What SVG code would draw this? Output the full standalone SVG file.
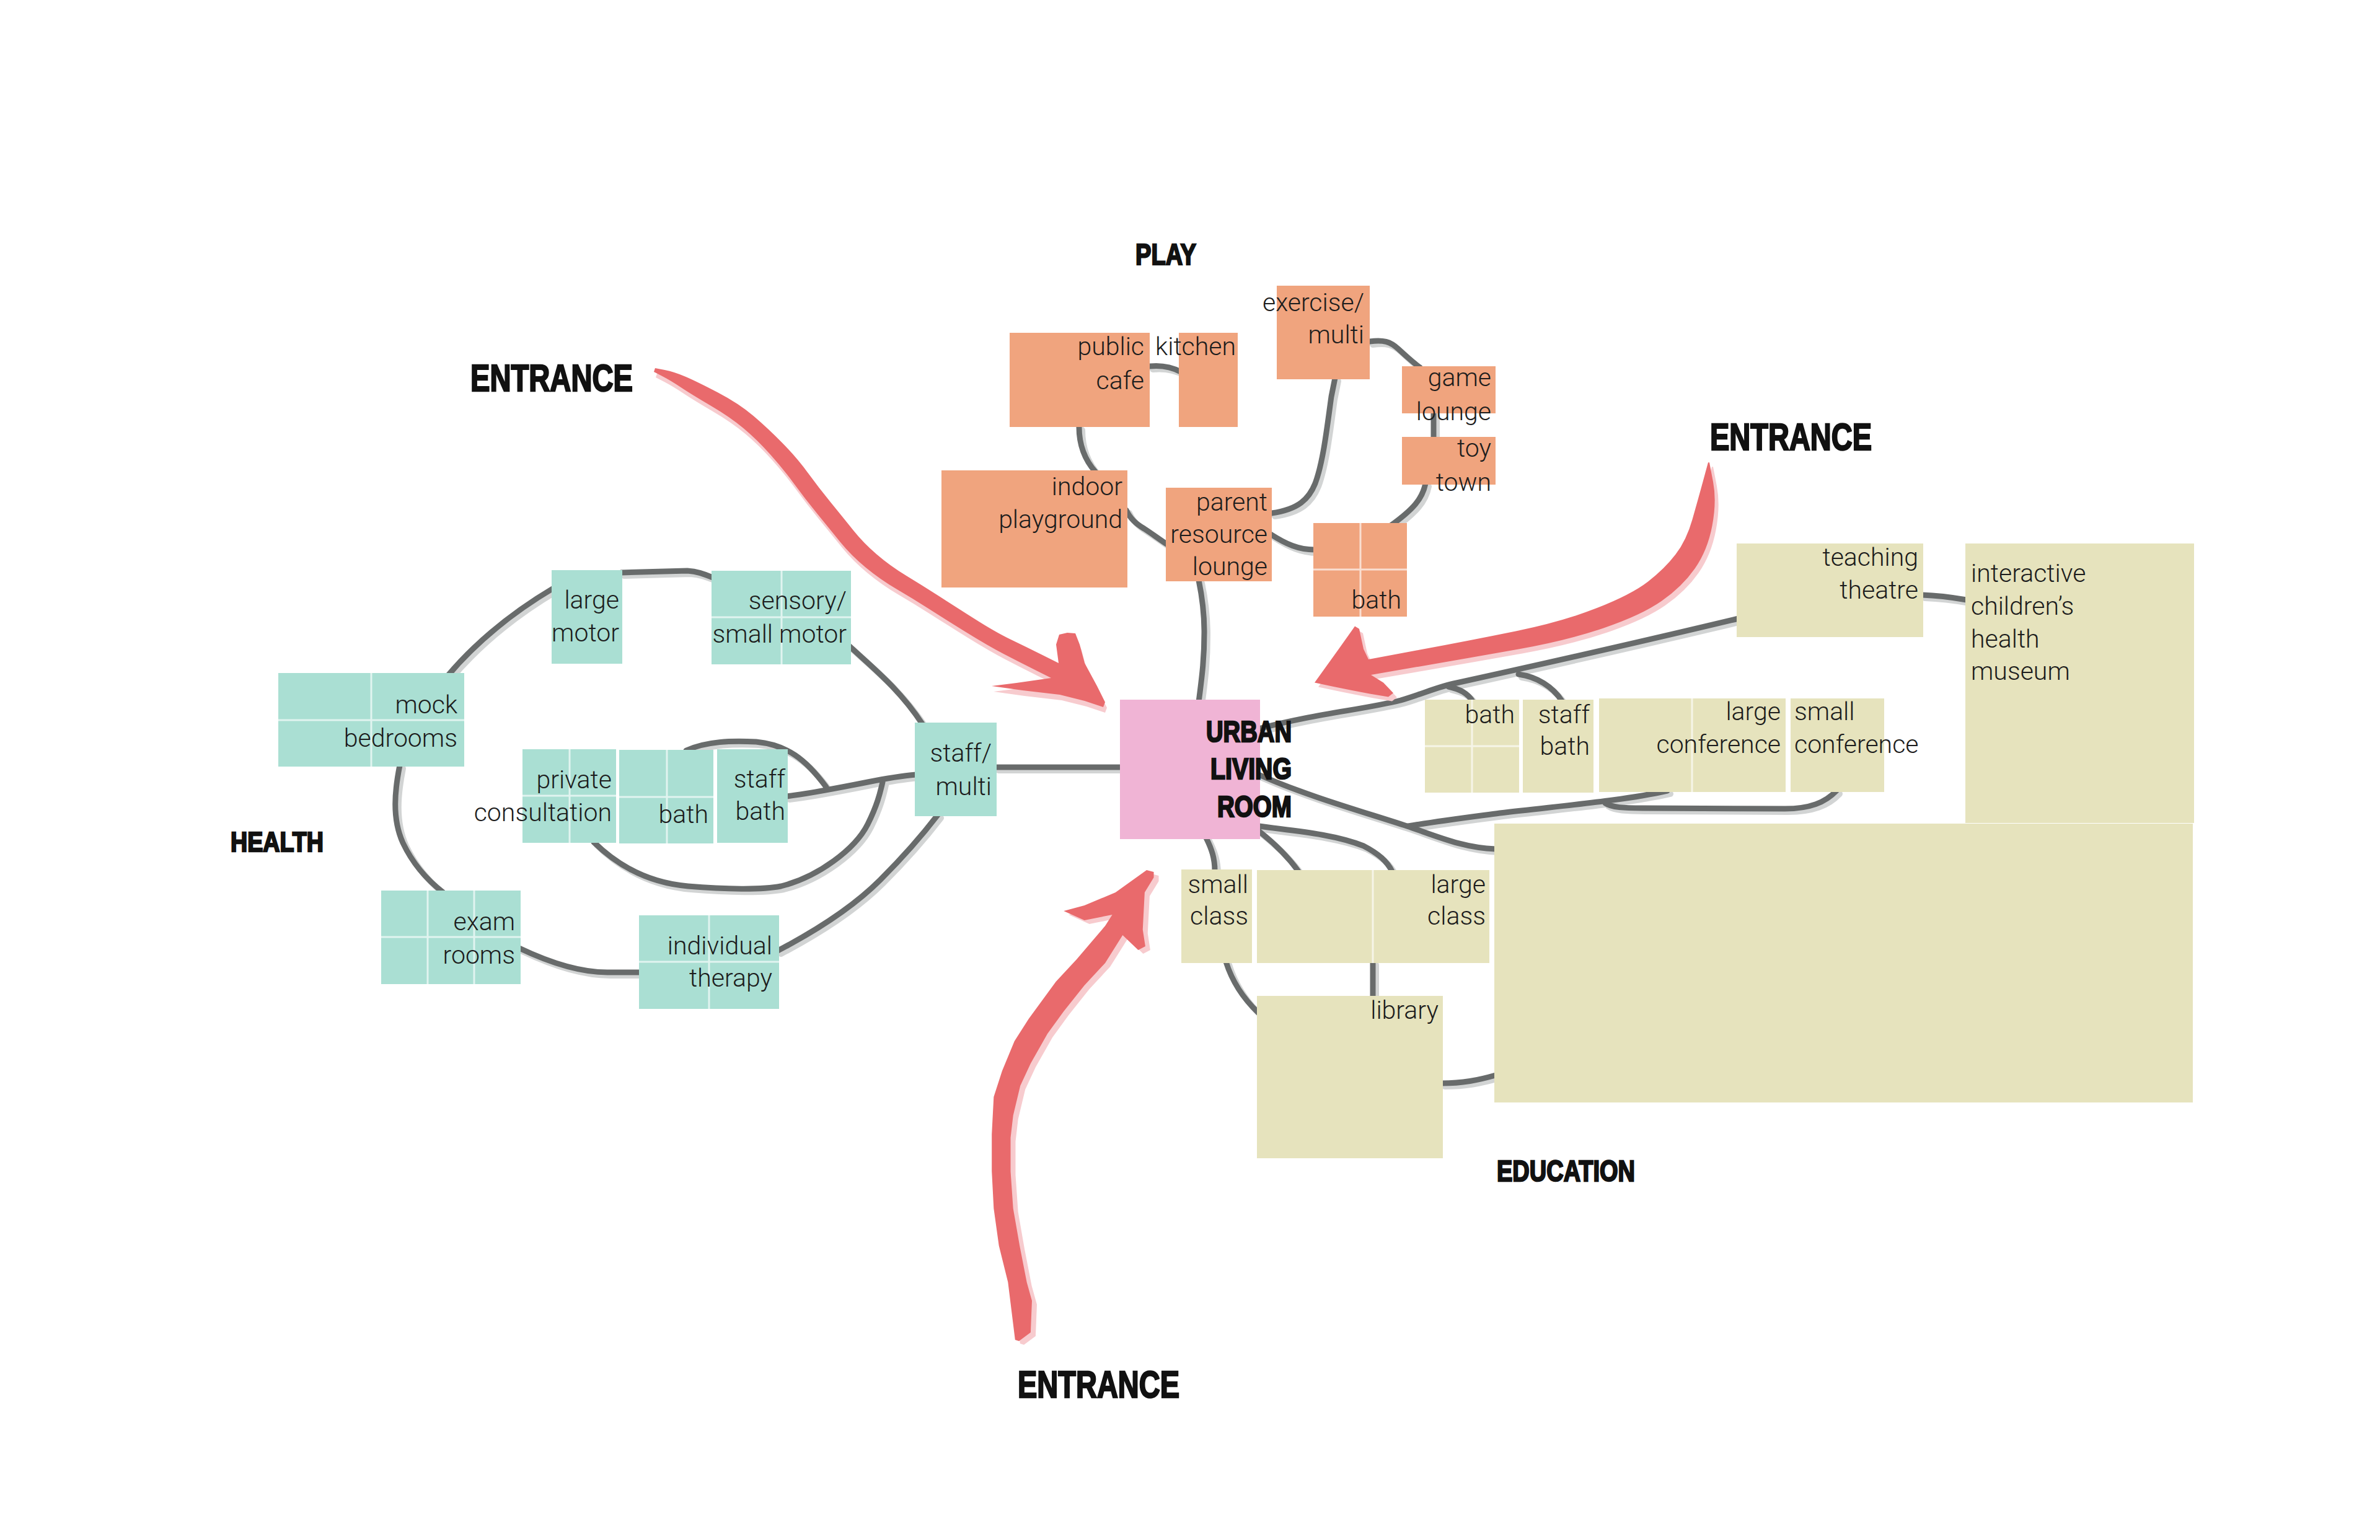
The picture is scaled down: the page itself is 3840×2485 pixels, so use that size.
<svg xmlns="http://www.w3.org/2000/svg" xmlns:xlink="http://www.w3.org/1999/xlink" width="3840" height="2485" viewBox="0 0 3840 2485">
<style>
.play{fill:#F0A47E}
.health{fill:#AADFD3}
.edu{fill:#E6E3BD}
.hub{fill:#F0B4D5}
.div{stroke:#ffffff;stroke-opacity:0.65;stroke-width:3;fill:none}
.t{font-family:Roboto,"Liberation Sans",Arial,sans-serif;font-weight:300;font-size:41px;fill:#1c1c1c}
.r{text-anchor:end}
.b{font-family:"Liberation Sans Narrow","Liberation Sans",Arial,sans-serif;font-weight:700;fill:#111111;stroke:#111111;stroke-width:2.5;stroke-linejoin:miter}
.arrow{fill:#E96A6C}
.ash{fill:#F7CBCE}
</style>
<defs>
<g id="links" fill="none" stroke-linecap="round" stroke-linejoin="round">
<path d="M1855,591 C1875,589 1890,592 1905,600"/>
<path d="M1741,689 C1741,718 1750,742 1768,762"/>
<path d="M1817,823 C1824,838 1834,846 1846,853 C1860,862 1870,870 1884,879"/>
<path d="M2052,828 C2095,822 2112,805 2122,780 C2135,745 2141,690 2148,640 L2154,610"/>
<path d="M2210,551 C2232,548 2243,551 2256,563 C2270,576 2280,585 2291,593"/>
<path d="M2313,665 L2313,707"/>
<path d="M2300,780 C2295,805 2280,822 2244,848"/>
<path d="M2050,862 C2075,878 2095,887 2121,887"/>
<path d="M1934,936 C1940,965 1943,990 1943,1020 C1943,1070 1938,1100 1934,1133"/>
<path d="M1606,1238 L1809,1238"/>
<path d="M2031,1176 C2120,1152 2200,1145 2260,1130 C2300,1118 2320,1108 2350,1102 C2450,1080 2650,1035 2805,998"/>
<path d="M2337,1108 C2355,1112 2368,1118 2377,1133"/>
<path d="M2450,1088 C2480,1092 2505,1108 2520,1131"/>
<path d="M2031,1250 C2110,1285 2200,1310 2270,1333 C2320,1350 2360,1368 2413,1370"/>
<path d="M2272,1333 C2320,1325 2360,1320 2420,1312 C2520,1300 2620,1292 2690,1276"/>
<path d="M2590,1296 C2600,1303 2620,1304 2650,1304 L2880,1305 C2920,1305 2945,1295 2963,1276"/>
<path d="M2031,1333 C2080,1340 2150,1345 2200,1365 C2225,1378 2238,1390 2246,1406"/>
<path d="M2031,1341 C2055,1360 2080,1385 2095,1406"/>
<path d="M1946,1352 C1955,1370 1960,1385 1960,1405"/>
<path d="M1978,1552 C1990,1590 2010,1615 2030,1634"/>
<path d="M2215,1552 L2215,1609"/>
<path d="M2326,1748 C2360,1748 2385,1743 2413,1735"/>
<path d="M3101,960 C3130,961 3150,964 3173,968"/>
<path d="M1002,924 L1109,921 C1125,922 1135,926 1150,932"/>
<path d="M893,949 Q790,1010 721,1092"/>
<path d="M645,1235 C637,1275 632,1320 650,1360 C668,1398 693,1423 715,1440"/>
<path d="M838,1530 C880,1550 930,1569 980,1569 L1033,1569"/>
<path d="M1255,1534 C1320,1500 1380,1460 1420,1420 C1460,1380 1490,1345 1513,1315"/>
<path d="M1371,1043 C1405,1075 1450,1110 1488,1168"/>
<path d="M1269,1285 C1310,1280 1360,1270 1400,1262 C1430,1256 1455,1252 1478,1250"/>
<path d="M1107,1211 C1140,1196 1180,1195 1220,1197 C1270,1202 1300,1225 1333,1270"/>
<path d="M958,1359 C1000,1400 1050,1425 1110,1430 C1170,1435 1230,1436 1260,1430 C1320,1415 1380,1370 1400,1330 C1415,1300 1420,1280 1424,1262"/>
</g>
<path id="arrowTL" d="M1057,594 L1072.5,597 Q1088,600 1106.5,608 Q1125,616 1158.5,633.5 Q1192,651 1215.5,671 Q1239,691 1262.5,715 Q1286,739 1303.5,763 Q1321,787 1341,811.5 Q1361,836 1377,856 Q1393,876 1414.5,894.5 Q1436,913 1461.5,928.5 Q1487,944 1512,960 Q1537,976 1571.5,998 Q1606,1020 1631,1032 Q1656,1044 1682,1057 L1708,1070 L1704,1040 L1709,1024 L1722,1021 L1735,1022 L1742,1040 L1750,1070 L1770,1107 L1783,1133 L1780,1141 L1750,1131 L1710,1121 L1650,1114 L1600,1107 L1640,1102 L1696,1094 L1670,1081 Q1644,1068 1619,1055 Q1594,1042 1558.5,1020 Q1523,998 1498,982 Q1473,966 1446.5,950.5 Q1420,935 1396.5,915.5 Q1373,896 1356,875 Q1339,854 1319,829.5 Q1299,805 1281.5,781 Q1264,757 1242.5,733 Q1221,709 1199.5,691 Q1178,673 1146.5,654.5 Q1115,636 1098.5,625 Q1082,614 1068.5,607 L1055,600 Z"/>
<path id="arrowR" transform="matrix(1,0,0,1.0453,0,-29.45)" d="M2758,742 L2764,772 Q2770,802 2762.5,840 Q2755,878 2734.5,906 Q2714,934 2681,956 Q2648,978 2588,997.5 Q2528,1017 2451.5,1030 Q2375,1043 2293.5,1056.5 L2212,1070 L2232,1082 L2248,1098 L2240,1104 C2200,1098 2160,1090 2121,1082 L2160,1030 L2186,995 L2193,999 L2200,1030 L2208,1046 L2289.5,1031.5 Q2371,1017 2445.5,1002.5 Q2520,988 2576,967 Q2632,946 2659,926 Q2686,906 2703.5,884 Q2721,862 2730.5,830 Q2740,798 2748,770 L2756,742 Z"/>
<path id="arrowB" transform="matrix(1.0453,0,0,1,-70.2,0)" d="M1634,2162 L1623,2069 L1609,2010 L1601,1950 L1598,1890 L1598,1830 L1601,1770 L1614,1728 L1633,1680 L1655,1644 L1697,1584 L1729,1548 L1773,1494 L1784,1476 L1741,1485 L1709,1470 L1741,1461 L1789,1440 L1837,1404 L1848,1407 L1848,1416 L1834,1440 L1831,1500 L1835,1527 L1824,1533 L1800,1509 L1773,1554 L1741,1590 L1709,1632 L1684,1668 L1658,1716 L1642,1752 L1631,1800 L1627,1836 L1627,1890 L1631,1950 L1641,2010 L1652,2069 L1660,2099 L1658,2150 L1640,2164 Z"/>
</defs>

<g id="connectors">
<use xlink:href="#links" href="#links" transform="translate(5,5)" stroke="#D2D4D4" stroke-width="10"/>
<use xlink:href="#links" href="#links" stroke="#686B6B" stroke-width="9"/>
</g>

<!-- PLAY -->
<g id="public-cafe"><rect class="play" x="1629" y="537" width="226" height="152"/><text class="t r" x="1846" y="573">public</text><text class="t r" x="1846" y="628">cafe</text></g>
<g id="kitchen"><rect class="play" x="1902" y="537" width="95" height="152"/><text class="t r" x="1994" y="573">kitchen</text></g>
<g id="exercise-multi"><rect class="play" x="2060" y="461" width="150" height="151"/><text class="t r" x="2201" y="502">exercise/</text><text class="t r" x="2201" y="554">multi</text></g>
<g id="game-lounge"><rect class="play" x="2262" y="591" width="151" height="76"/><text class="t r" x="2406" y="623">game</text><text class="t r" x="2406" y="678">lounge</text></g>
<g id="toy-town"><rect class="play" x="2262" y="705" width="151" height="77"/><text class="t r" x="2406" y="737">toy</text><text class="t r" x="2406" y="792">town</text></g>
<g id="indoor-playground"><rect class="play" x="1519" y="759" width="300" height="189"/><text class="t r" x="1811" y="799">indoor</text><text class="t r" x="1811" y="852">playground</text></g>
<g id="parent-resource-lounge"><rect class="play" x="1881" y="787" width="171" height="151"/><text class="t r" x="2045" y="824">parent</text><text class="t r" x="2045" y="876">resource</text><text class="t r" x="2045" y="928">lounge</text></g>
<g id="play-bath"><rect class="play" x="2119" y="844" width="151" height="151"/><path class="div" d="M2195,844 V995 M2119,919 H2270"/><text class="t r" x="2261" y="982">bath</text></g>

<!-- HEALTH -->
<g id="large-motor"><rect class="health" x="890" y="920" width="114" height="151"/><text class="t r" x="999" y="982">large</text><text class="t r" x="999" y="1035">motor</text></g>
<g id="sensory-small-motor"><rect class="health" x="1148" y="921" width="225" height="151"/><path class="div" d="M1261,921 V1072 M1148,996 H1373"/><text class="t r" x="1366" y="983">sensory/</text><text class="t r" x="1366" y="1037">small motor</text></g>
<g id="mock-bedrooms"><rect class="health" x="449" y="1086" width="300" height="151"/><path class="div" d="M599,1086 V1237 M449,1162 H749"/><text class="t r" x="738" y="1151">mock</text><text class="t r" x="738" y="1205">bedrooms</text></g>
<g id="private-consultation"><rect class="health" x="843" y="1209" width="151" height="151"/><path class="div" d="M919,1209 V1360 M843,1284 H994"/><text class="t r" x="987" y="1272">private</text><text class="t r" x="987" y="1325">consultation</text></g>
<g id="health-bath"><rect class="health" x="999" y="1210" width="152" height="151"/><path class="div" d="M1076,1210 V1361 M999,1286 H1151"/><text class="t r" x="1143" y="1328">bath</text></g>
<g id="health-staff-bath"><rect class="health" x="1157" y="1209" width="114" height="151"/><text class="t r" x="1267" y="1271">staff</text><text class="t r" x="1267" y="1323">bath</text></g>
<g id="staff-multi"><rect class="health" x="1476" y="1166" width="132" height="151"/><text class="t r" x="1600" y="1229">staff/</text><text class="t r" x="1600" y="1283">multi</text></g>
<g id="exam-rooms"><rect class="health" x="615" y="1437" width="225" height="151"/><path class="div" d="M690,1437 V1588 M765,1437 V1588 M615,1512 H840"/><text class="t r" x="831" y="1501">exam</text><text class="t r" x="831" y="1555">rooms</text></g>
<g id="individual-therapy"><rect class="health" x="1031" y="1477" width="226" height="151"/><path class="div" d="M1144,1477 V1628 M1031,1552 H1257"/><text class="t r" x="1246" y="1540">individual</text><text class="t r" x="1246" y="1592">therapy</text></g>

<!-- EDUCATION -->
<g id="teaching-theatre"><rect class="edu" x="2802" y="877" width="301" height="151"/><text class="t r" x="3095" y="913">teaching</text><text class="t r" x="3095" y="966">theatre</text></g>
<g id="museum"><rect class="edu" x="3171" y="877" width="369" height="451"/><text class="t" x="3180" y="939">interactive</text><text class="t" x="3180" y="992">children’s</text><text class="t" x="3180" y="1045">health</text><text class="t" x="3180" y="1097">museum</text></g>
<g id="education-hall"><rect class="edu" x="2411" y="1329" width="1127" height="450"/></g>
<g id="edu-bath"><rect class="edu" x="2299" y="1129" width="152" height="150"/><path class="div" d="M2375,1129 V1279 M2299,1204 H2451"/><text class="t r" x="2444" y="1167">bath</text></g>
<g id="edu-staff-bath"><rect class="edu" x="2457" y="1129" width="114" height="150"/><text class="t r" x="2565" y="1167">staff</text><text class="t r" x="2565" y="1218">bath</text></g>
<g id="large-conference"><rect class="edu" x="2580" y="1127" width="301" height="151"/><path class="div" d="M2730,1127 V1278"/><text class="t r" x="2873" y="1162">large</text><text class="t r" x="2873" y="1215">conference</text></g>
<g id="small-conference"><rect class="edu" x="2889" y="1127" width="151" height="151"/><text class="t" x="2895" y="1162">small</text><text class="t" x="2895" y="1215">conference</text></g>
<g id="small-class"><rect class="edu" x="1906" y="1403" width="114" height="151"/><text class="t r" x="2014" y="1441">small</text><text class="t r" x="2014" y="1492">class</text></g>
<g id="large-class"><rect class="edu" x="2028" y="1404" width="375" height="150"/><path class="div" d="M2215,1404 V1554"/><text class="t r" x="2397" y="1441">large</text><text class="t r" x="2397" y="1492">class</text></g>
<g id="library"><rect class="edu" x="2028" y="1607" width="300" height="262"/><text class="t r" x="2321" y="1644">library</text></g>

<!-- HUB -->
<g id="urban-living-room"><rect class="hub" x="1807" y="1129" width="226" height="225"/>
<text class="b" x="1946" y="1197" font-size="48" textLength="138" lengthAdjust="spacingAndGlyphs">URBAN</text>
<text class="b" x="1953" y="1257" font-size="48" textLength="131" lengthAdjust="spacingAndGlyphs">LIVING</text>
<text class="b" x="1964" y="1318" font-size="48" textLength="120" lengthAdjust="spacingAndGlyphs">ROOM</text></g>

<!-- ARROWS -->
<g id="entrance-arrows">
<use xlink:href="#arrowTL" href="#arrowTL" class="ash" transform="translate(3,9)"/>
<use xlink:href="#arrowR" href="#arrowR" class="ash" transform="translate(6,7)"/>
<use xlink:href="#arrowB" href="#arrowB" class="ash" transform="translate(8,6)"/>
<use xlink:href="#arrowTL" href="#arrowTL" class="arrow"/>
<use xlink:href="#arrowR" href="#arrowR" class="arrow"/>
<use xlink:href="#arrowB" href="#arrowB" class="arrow"/>
</g>

<!-- LABELS -->
<g id="labels">
<text class="b" x="1832" y="427" font-size="48" textLength="98" lengthAdjust="spacingAndGlyphs">PLAY</text>
<text class="b" x="372" y="1374" font-size="45" textLength="150" lengthAdjust="spacingAndGlyphs">HEALTH</text>
<text class="b" x="2415" y="1906" font-size="48" textLength="223" lengthAdjust="spacingAndGlyphs">EDUCATION</text>
<text class="b" x="759" y="631" font-size="61" textLength="262" lengthAdjust="spacingAndGlyphs">ENTRANCE</text>
<text class="b" x="2759" y="726" font-size="61" textLength="261" lengthAdjust="spacingAndGlyphs">ENTRANCE</text>
<text class="b" x="1642" y="2255" font-size="61" textLength="261" lengthAdjust="spacingAndGlyphs">ENTRANCE</text>
</g>
</svg>
